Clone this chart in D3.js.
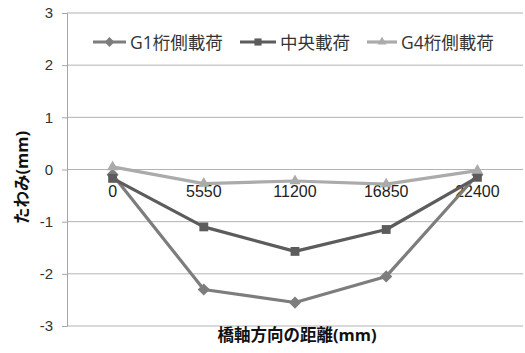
<!DOCTYPE html>
<html>
<head>
<meta charset="utf-8">
<script src="https://cdn.jsdelivr.net/npm/d3@7/dist/d3.min.js"></script>
<style>
  body { margin: 0; background: #fff; }
  svg { display: block; font-family: "Open Sans", "Noto Sans CJK JP", sans-serif; }
</style>
</head>
<body>
<svg id="chart" width="525" height="353"></svg>
<script>
// Girder deflection along the bridge axis for three load cases
const positions = ["0", "5550", "11200", "16850", "22400"];
const g1Side = [-0.1, -2.3, -2.55, -2.05, -0.1];
const center = [-0.17, -1.1, -1.57, -1.15, -0.15];
const g4Side = [0.05, -0.27, -0.22, -0.28, -0.02];
const yTicks = [-3, -2, -1, 0, 1, 2, 3];
const seriesNames = ["G1桁側載荷", "中央載荷", "G4桁側載荷"];

const series = [
  { name: seriesNames[0], values: g1Side, color: "#7d7d7d", marker: "diamond" },
  { name: seriesNames[1], values: center, color: "#5c5c5c", marker: "square" },
  { name: seriesNames[2], values: g4Side, color: "#ababab", marker: "triangle" }
];

const svg = d3.select("#chart");
const margin = { left: 67, right: 2, top: 13, bottom: 27 };
const W = 525, H = 353;

const x = d3.scaleBand().domain(positions)
  .range([margin.left, W - margin.right]);
const y = d3.scaleLinear().domain([-3, 3])
  .range([H - margin.bottom, margin.top]);
const cx = d => x(d) + x.bandwidth() / 2;

// horizontal gridlines
svg.append("g").selectAll("line").data(yTicks).join("line")
  .attr("x1", margin.left).attr("x2", W - margin.right)
  .attr("y1", d => y(d)).attr("y2", d => y(d))
  .attr("stroke", "#b3b3b3").attr("stroke-width", 1);

// value axis
const yAxis = svg.append("g")
  .attr("transform", `translate(${margin.left},0)`)
  .call(d3.axisLeft(y).tickValues(yTicks).tickSize(5).tickPadding(9).tickFormat(d => String(d)));
yAxis.select(".domain").attr("stroke", "#a6a6a6");
yAxis.selectAll(".tick line").attr("stroke", "#a6a6a6");
yAxis.selectAll("text").attr("font-size", 15).attr("fill", "#333");

// category labels sit under the zero line, beneath the series lines
const xAxis = svg.append("g")
  .attr("transform", `translate(0,${y(0)})`)
  .call(d3.axisBottom(x).tickSize(0).tickPadding(16));
xAxis.select(".domain").remove();
xAxis.selectAll("text").attr("font-size", 16).attr("fill", "#222");

const makeSymbols = k => ({
  diamond: d3.symbol().type(d3.symbolDiamond2).size(95 * k),
  square: d3.symbol().type(d3.symbolSquare2).size(100 * k),
  triangle: d3.symbol().type(d3.symbolTriangle2).size(90 * k)
});
const symbolFor = makeSymbols(1);
const legendSymbol = makeSymbols(0.65);

const line = d3.line().x((d, i) => cx(positions[i])).y(d => y(d));

series.forEach(s => {
  const g = svg.append("g");
  g.append("path").datum(s.values)
    .attr("d", line).attr("fill", "none")
    .attr("stroke", s.color).attr("stroke-width", 3.2)
    .attr("stroke-linejoin", "round");
  g.selectAll("path.m").data(s.values).join("path").attr("class", "m")
    .attr("transform", (d, i) => `translate(${cx(positions[i])},${y(d)})`)
    .attr("d", symbolFor[s.marker]).attr("fill", s.color);
});

// legend
const legendItems = [
  { x0: 93, tx: 130 },
  { x0: 240, tx: 280 },
  { x0: 367, tx: 401 }
];
const legend = svg.append("g");
series.forEach((s, i) => {
  const L = legendItems[i];
  const lx2 = L.tx - 4;
  const gi = legend.append("g");
  gi.append("line").attr("x1", L.x0).attr("x2", lx2).attr("y1", 42).attr("y2", 42)
    .attr("stroke", s.color).attr("stroke-width", 3.2);
  gi.append("path").attr("transform", `translate(${(L.x0 + lx2) / 2},42)`)
    .attr("d", legendSymbol[s.marker]).attr("fill", s.color);
  gi.append("text").attr("x", L.tx).attr("y", 48.5)
    .attr("font-size", 17.5).attr("fill", "#333").text(s.name);
});

// axis titles
svg.append("text")
  .attr("transform", `translate(28,${(y(0) + 8)}) rotate(-90)`)
  .attr("text-anchor", "middle").attr("font-size", 16.5).attr("font-weight", "bold")
  .attr("fill", "#111").text("たわみ(mm)");
svg.append("text")
  .attr("x", 297).attr("y", 341)
  .attr("text-anchor", "middle").attr("font-size", 16.5).attr("font-weight", "bold")
  .attr("fill", "#111").text("橋軸方向の距離(mm)");
</script>
</body>
</html>
